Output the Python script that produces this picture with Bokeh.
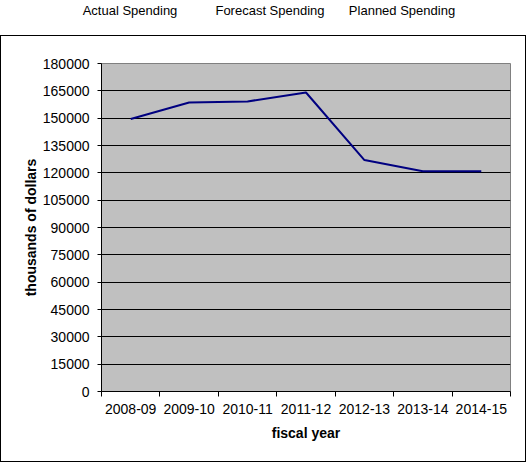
import numpy as np
from bokeh.plotting import figure
from bokeh.layouts import column
from bokeh.models import Div, FixedTicker, BasicTickFormatter
from bokeh.embed import file_html
from bokeh.resources import INLINE

# データ
years = ['2008-09', '2009-10', '2010-11', '2011-12', '2012-13', '2013-14', '2014-15']
spending = [149500, 158600, 159200, 164100, 127000, 120900, 120900]
y_ticks = list(range(0, 180001, 15000))
headers = ['Actual Spending', 'Forecast Spending', 'Planned Spending']
header_pos = [130, 270, 402]

FONT = 'Liberation Sans'

# 上の見出し
spans = ''.join(
    '<span style="position:absolute;left:{}px;top:6px;transform:translateX(-50%);'
    'white-space:nowrap">{}</span>'.format(x - 5, t)
    for t, x in zip(headers, header_pos))
header = Div(text='<div style="position:relative;width:520px;height:33px;'
                  'font:13px \'{}\';color:#000">{}</div>'.format(FONT, spans),
             width=520, height=33)

centers = np.arange(len(years)) + 0.5
bounds = list(range(len(years) + 1))

p = figure(width=526, height=427, x_range=(0, len(years)), y_range=(0, 180000),
           output_backend='svg', toolbar_location=None,
           min_border_left=100, min_border_right=17, min_border_top=27, min_border_bottom=72,
           background_fill_color='#C0C0C0', border_fill_color='white',
           styles={'border': '1px solid black'})
p.outline_line_color = '#808080'

p.line(centers, spending, line_color='#000080', line_width=2)

# 軸
p.xaxis.ticker = FixedTicker(ticks=list(centers), minor_ticks=bounds)
p.xaxis.major_label_overrides = {float(c): y for c, y in zip(centers, years)}
p.xaxis.minor_tick_line_color = 'black'
p.xaxis.minor_tick_in = 0
p.xaxis.minor_tick_out = 5
p.xaxis.major_label_standoff = 6
p.xaxis.axis_label = 'fiscal year'
p.xaxis.axis_label_standoff = 8

p.yaxis.ticker = FixedTicker(ticks=y_ticks)
p.yaxis.formatter = BasicTickFormatter(use_scientific=False)
p.yaxis.major_tick_in = 0
p.yaxis.major_tick_out = 4
p.yaxis.minor_tick_line_color = None
p.yaxis.major_label_standoff = 8
p.yaxis.axis_label = 'thousands of dollars'
p.yaxis.axis_label_standoff = 1

for ax in [p.xaxis[0], p.yaxis[0]]:
    ax.axis_line_color = 'black'
    ax.major_label_text_font = FONT
    ax.major_label_text_font_size = '14px'
    ax.major_label_text_color = 'black'
    ax.axis_label_text_font = FONT
    ax.axis_label_text_font_size = '14px'
    ax.axis_label_text_font_style = 'bold'
    ax.axis_label_text_color = 'black'
p.xaxis.major_tick_line_color = None
p.yaxis.major_tick_line_color = 'black'

p.xgrid.grid_line_color = None
p.ygrid.ticker = FixedTicker(ticks=y_ticks[1:-1])
p.ygrid.grid_line_color = 'black'
p.ygrid.grid_line_width = 1

layout = column(header, p, spacing=0, styles={'margin-top': '-8px'})

open("out.html", "w").write(file_html(layout, INLINE))
